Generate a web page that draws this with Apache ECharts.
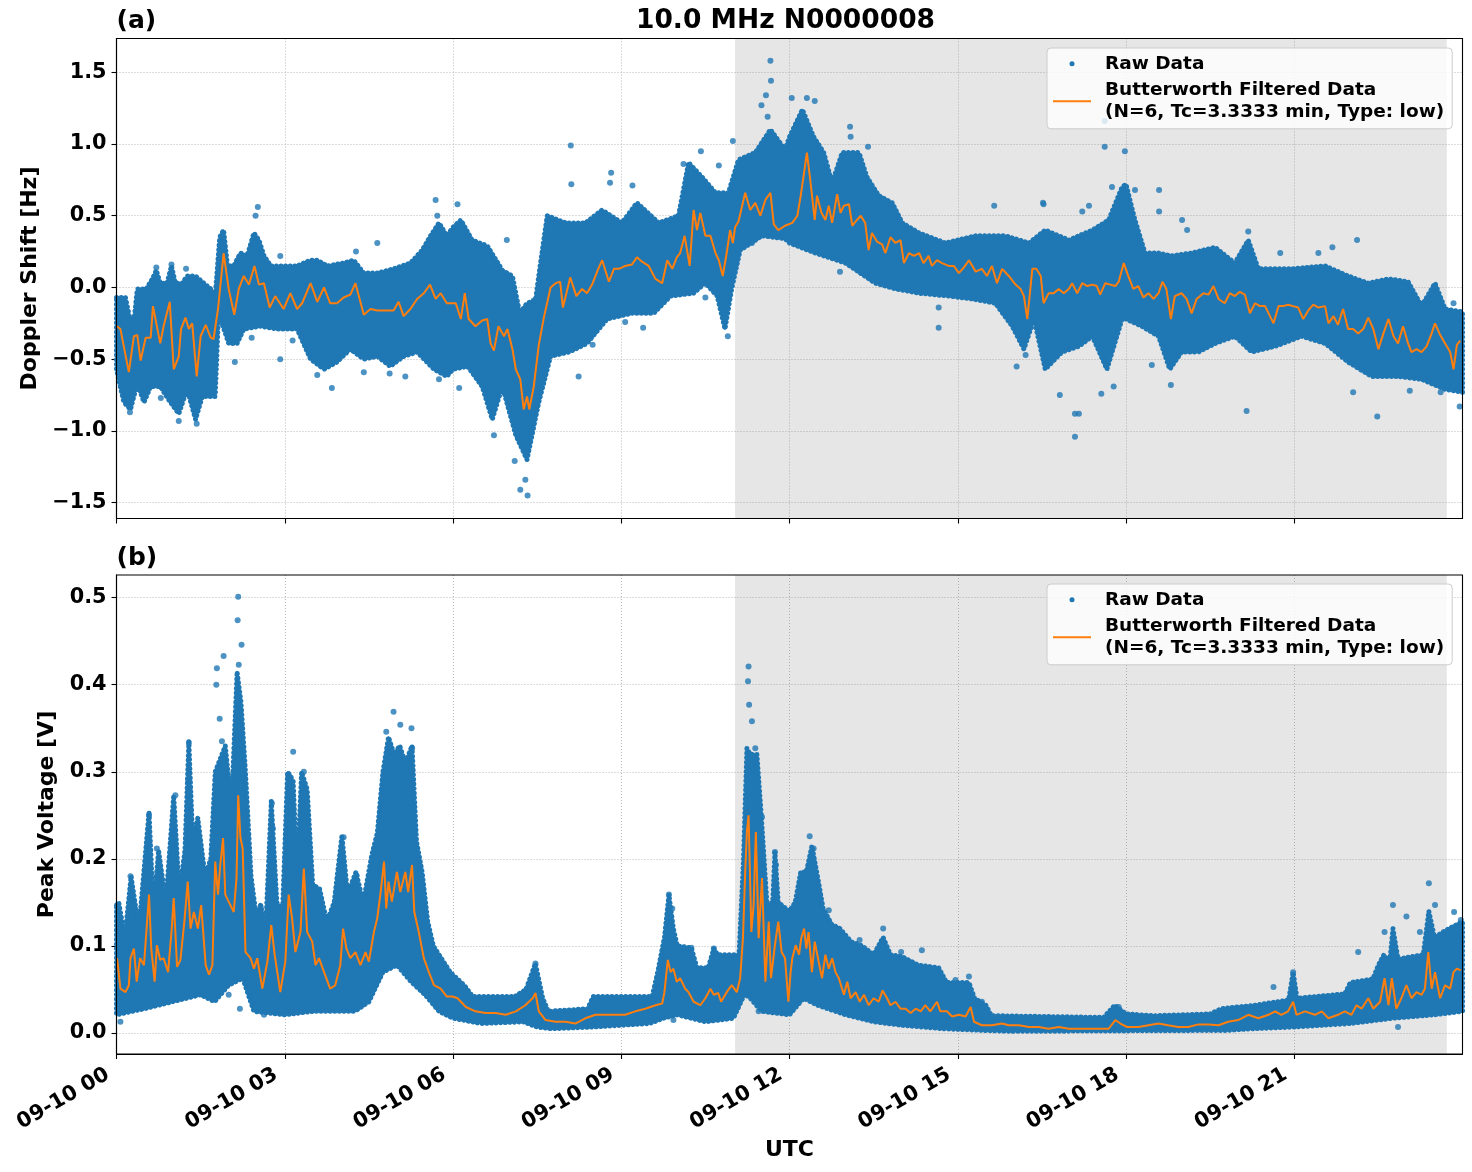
<!DOCTYPE html>
<html>
<head>
<meta charset="utf-8">
<title>10.0 MHz N0000008</title>
<script src="https://cdn.jsdelivr.net/npm/echarts@6/dist/echarts.min.js"></script>
<style>
  html, body { margin: 0; padding: 0; background: #fff; }
  #chart { width: 1472px; height: 1172px; }
</style>
</head>
<body>
<div id="chart"></div>
<script>
// ---- data (hours UTC since 09-10 00:00) ----
var xTickHours = [0, 3, 6, 9, 12, 15, 18, 21];
var dopplerTicks = [-1.5, -1, -0.5, 0, 0.5, 1, 1.5];
var voltageTicks = [0, 0.1, 0.2, 0.3, 0.4, 0.5];
var shadeHours = [11.03, 23.72];

// edges of the dense cloud of raw samples [hour, value]
var dopplerUpper = [
  [0.00, -0.07], [0.16, -0.07], [0.24, -0.22], [0.32, -0.20], [0.37, -0.01], [0.53, -0.01], [0.64, 0.06], [0.71, 0.12], [0.78, 0.03],
  [0.90, 0.03], [0.98, 0.15], [1.05, 0.03], [1.17, 0.03], [1.26, 0.08], [1.41, 0.08], [1.56, 0.03], [1.68, -0.01], [1.76, -0.06],
  [1.84, 0.35], [1.91, 0.40], [1.98, 0.15], [2.09, 0.15], [2.21, 0.24], [2.33, 0.22], [2.45, 0.38], [2.54, 0.33], [2.63, 0.22],
  [2.75, 0.15], [2.98, 0.15], [3.22, 0.15], [3.46, 0.19], [3.58, 0.19], [3.76, 0.15], [4.05, 0.17], [4.23, 0.19], [4.41, 0.10],
  [4.65, 0.10], [4.94, 0.13], [5.24, 0.17], [5.45, 0.26], [5.60, 0.36], [5.75, 0.45], [5.89, 0.36], [6.00, 0.42], [6.14, 0.47],
  [6.34, 0.33], [6.61, 0.29], [6.88, 0.12], [7.06, 0.08], [7.19, -0.18], [7.32, -0.11], [7.47, -0.09], [7.56, 0.17], [7.68, 0.50],
  [8.01, 0.45], [8.36, 0.45], [8.66, 0.54], [9.01, 0.45], [9.28, 0.59], [9.67, 0.45], [10.02, 0.50], [10.20, 0.87], [10.44, 0.77],
  [10.68, 0.66], [10.91, 0.66], [11.09, 0.89], [11.39, 0.94], [11.66, 1.10], [11.92, 0.96], [12.00, 1.05], [12.23, 1.24], [12.43, 1.05],
  [12.61, 0.94], [12.76, 0.73], [12.94, 0.94], [13.24, 0.94], [13.38, 0.77], [13.59, 0.64], [13.83, 0.59], [14.01, 0.45], [14.31, 0.38],
  [14.78, 0.31], [15.32, 0.36], [15.85, 0.36], [16.27, 0.31], [16.56, 0.40], [16.98, 0.33], [17.40, 0.40], [17.69, 0.47], [17.93, 0.70],
  [18.00, 0.72], [18.16, 0.47], [18.34, 0.24], [18.58, 0.24], [18.81, 0.22], [19.17, 0.24], [19.59, 0.28], [19.94, 0.17], [20.18, 0.33],
  [20.36, 0.13], [20.95, 0.13], [21.55, 0.15], [21.96, 0.08], [22.32, 0.03], [22.68, 0.06], [23.03, 0.04], [23.27, -0.13], [23.51, 0.03],
  [23.69, -0.15], [24.00, -0.17]
];
var dopplerLower = [
  [0.00, -0.57], [0.13, -0.80], [0.25, -0.85], [0.37, -0.67], [0.49, -0.80], [0.61, -0.69], [0.78, -0.69], [0.96, -0.80], [1.11, -0.88],
  [1.26, -0.71], [1.41, -0.92], [1.53, -0.76], [1.76, -0.76], [1.82, -0.18], [2.00, -0.39], [2.15, -0.39], [2.27, -0.29], [2.57, -0.27],
  [2.86, -0.29], [3.22, -0.29], [3.46, -0.50], [3.70, -0.57], [3.93, -0.52], [4.17, -0.43], [4.41, -0.50], [4.65, -0.48], [4.88, -0.55],
  [5.12, -0.48], [5.36, -0.45], [5.66, -0.57], [5.89, -0.62], [6.00, -0.57], [6.26, -0.55], [6.52, -0.69], [6.70, -0.92], [6.88, -0.69],
  [7.12, -1.03], [7.32, -1.20], [7.53, -0.80], [7.74, -0.48], [8.07, -0.45], [8.39, -0.39], [8.75, -0.22], [9.19, -0.18], [9.58, -0.18],
  [9.88, -0.06], [10.29, -0.04], [10.50, 0.03], [10.71, -0.06], [10.85, -0.29], [10.97, -0.01], [11.12, 0.26], [11.51, 0.36], [11.92, 0.34],
  [12.00, 0.31], [12.46, 0.24], [13.00, 0.17], [13.53, 0.03], [13.89, -0.01], [14.31, -0.04], [14.84, -0.06], [15.26, -0.08], [15.67, -0.11],
  [15.97, -0.27], [16.18, -0.43], [16.36, -0.22], [16.56, -0.57], [16.86, -0.45], [17.16, -0.41], [17.40, -0.34], [17.66, -0.57], [17.93, -0.22],
  [18.00, -0.22], [18.28, -0.27], [18.58, -0.34], [18.78, -0.57], [18.99, -0.45], [19.29, -0.45], [19.59, -0.39], [19.94, -0.34], [20.24, -0.45],
  [20.66, -0.41], [21.13, -0.34], [21.55, -0.39], [21.96, -0.52], [22.38, -0.62], [22.85, -0.62], [23.27, -0.64], [23.69, -0.71], [24.00, -0.73]
];
var voltageUpper = [
  [0.00, 0.147], [0.04, 0.150], [0.15, 0.110], [0.26, 0.180], [0.40, 0.120], [0.58, 0.254], [0.66, 0.140], [0.75, 0.210], [0.88, 0.150],
  [1.02, 0.273], [1.12, 0.160], [1.22, 0.210], [1.29, 0.335], [1.36, 0.220], [1.45, 0.247], [1.58, 0.180], [1.68, 0.200], [1.76, 0.300],
  [1.85, 0.315], [1.94, 0.330], [2.05, 0.260], [2.15, 0.415], [2.22, 0.380], [2.30, 0.300], [2.40, 0.180], [2.50, 0.130], [2.57, 0.147],
  [2.66, 0.120], [2.76, 0.266], [2.86, 0.150], [2.96, 0.140], [3.05, 0.300], [3.15, 0.290], [3.22, 0.180], [3.30, 0.300], [3.40, 0.280],
  [3.50, 0.170], [3.62, 0.166], [3.75, 0.128], [3.88, 0.150], [4.02, 0.227], [4.12, 0.160], [4.27, 0.185], [4.40, 0.150], [4.55, 0.204],
  [4.65, 0.230], [4.75, 0.300], [4.85, 0.340], [4.95, 0.320], [5.05, 0.330], [5.15, 0.310], [5.27, 0.330], [5.35, 0.220], [5.45, 0.185],
  [5.55, 0.128], [5.65, 0.100], [5.80, 0.085], [5.95, 0.070], [6.20, 0.055], [6.35, 0.042], [7.10, 0.042], [7.30, 0.050], [7.47, 0.080],
  [7.60, 0.040], [7.70, 0.025], [8.40, 0.028], [8.50, 0.042], [9.55, 0.042], [9.65, 0.070], [9.77, 0.110], [9.85, 0.159], [9.93, 0.120],
  [10.00, 0.100], [10.25, 0.098], [10.35, 0.075], [10.55, 0.075], [10.65, 0.097], [10.72, 0.090], [11.10, 0.090], [11.18, 0.200], [11.24, 0.327],
  [11.30, 0.320], [11.42, 0.320], [11.50, 0.247], [11.60, 0.147], [11.70, 0.150], [11.74, 0.208], [11.80, 0.150], [12.00, 0.140], [12.10, 0.150],
  [12.20, 0.185], [12.30, 0.185], [12.40, 0.215], [12.50, 0.180], [12.60, 0.143], [12.75, 0.125], [12.90, 0.120], [13.10, 0.105], [13.30, 0.100],
  [13.50, 0.090], [13.67, 0.110], [13.80, 0.090], [14.00, 0.088], [14.30, 0.078], [14.66, 0.075], [14.80, 0.058], [15.20, 0.058], [15.30, 0.040],
  [15.50, 0.032], [15.60, 0.020], [17.60, 0.018], [17.80, 0.032], [18.00, 0.022], [18.50, 0.020], [19.50, 0.022], [19.70, 0.028], [20.30, 0.032],
  [20.90, 0.038], [20.98, 0.070], [21.05, 0.040], [21.90, 0.045], [22.00, 0.058], [22.40, 0.062], [22.50, 0.078], [22.60, 0.090], [22.70, 0.080],
  [22.76, 0.120], [22.85, 0.085], [23.30, 0.090], [23.40, 0.140], [23.50, 0.110], [23.70, 0.118], [24.00, 0.128]
];
var voltageLower = [
  [0.00, 0.021], [0.50, 0.028], [1.00, 0.036], [1.50, 0.044], [1.75, 0.036], [2.00, 0.055], [2.25, 0.063], [2.45, 0.025], [3.00, 0.021],
  [3.50, 0.025], [4.25, 0.025], [4.50, 0.036], [4.75, 0.070], [5.00, 0.078], [5.25, 0.059], [5.50, 0.044], [5.75, 0.025], [6.00, 0.017],
  [6.50, 0.011], [7.25, 0.013], [7.50, 0.007], [7.75, 0.005], [8.50, 0.007], [9.50, 0.011], [9.75, 0.017], [10.00, 0.021], [10.50, 0.013],
  [11.00, 0.017], [11.20, 0.045], [11.30, 0.040], [11.50, 0.025], [12.00, 0.021], [12.25, 0.040], [12.50, 0.032], [13.00, 0.021], [13.50, 0.013],
  [14.00, 0.009], [14.75, 0.005], [15.50, 0.003], [16.00, 0.002], [19.75, 0.003], [20.25, 0.005], [21.00, 0.007], [22.00, 0.011], [22.75, 0.017],
  [23.50, 0.021], [24.00, 0.025]
];

// sparse raw points standing out of the dense cloud [hour, value]
var dopplerOutliers = [
  [0.71, 0.14], [0.98, 0.16], [1.24, 0.13], [0.79, -0.77], [1.11, -0.93], [0.24, -0.87], [1.43, -0.95], [2.52, 0.56], [2.48, 0.50],
  [2.11, -0.52], [2.41, -0.35], [2.92, 0.22], [2.92, -0.50], [3.14, -0.37], [3.58, -0.61], [3.84, -0.70], [4.27, 0.25], [4.65, 0.31],
  [4.41, -0.59], [4.87, -0.60], [5.15, -0.62], [5.69, 0.61], [5.75, -0.64], [5.72, 0.50], [6.08, 0.58], [6.11, -0.70], [6.73, -1.03],
  [6.96, 0.33], [7.20, -1.41], [7.33, -1.45], [7.29, -1.34], [7.10, -1.21], [7.44, -0.09], [8.10, 0.99], [8.11, 0.72], [8.24, -0.62],
  [8.82, 0.80], [8.80, 0.73], [9.20, 0.71], [8.49, -0.40], [9.07, -0.24], [9.39, -0.28], [10.11, 0.86], [10.42, 0.95], [10.74, 0.85],
  [10.99, 1.02], [10.90, -0.34], [10.50, -0.07], [11.66, 1.58], [11.67, 1.44], [11.58, 1.34], [11.61, 1.19], [11.50, 1.27], [11.33, 0.31],
  [12.04, 1.32], [12.31, 1.32], [12.45, 1.30], [13.08, 1.12], [13.09, 1.05], [13.40, 0.98], [12.90, 0.11], [14.66, -0.14], [14.66, -0.28],
  [15.65, 0.57], [16.53, 0.58], [16.05, -0.55], [16.21, -0.47], [16.82, -0.75], [17.09, -0.88], [17.16, -0.88], [17.09, -1.04], [17.56, -0.74],
  [17.62, 0.98], [17.62, 1.16], [17.75, 0.70], [17.98, 0.95], [17.78, -0.69], [17.22, 0.53], [17.34, 0.57], [16.52, 0.59], [18.16, 0.68],
  [18.59, 0.68], [18.59, 0.53], [19.00, 0.47], [19.09, 0.40], [20.18, 0.39], [20.15, -0.86], [20.75, 0.24], [21.43, 0.24], [21.68, 0.28],
  [22.12, 0.33], [18.80, -0.68], [18.46, -0.54], [22.48, -0.90], [22.05, -0.73], [23.51, 0.01], [23.84, -0.11], [23.95, -0.83], [23.61, -0.73],
  [23.06, -0.72]
];
var voltageOutliers = [
  [2.17, 0.501], [2.16, 0.474], [2.23, 0.446], [2.18, 0.423], [1.91, 0.433], [1.79, 0.419], [1.78, 0.400], [1.84, 0.361], [1.88, 0.335],
  [1.29, 0.333], [1.28, 0.291], [1.05, 0.273], [0.58, 0.250], [0.72, 0.212], [0.25, 0.180], [3.15, 0.323], [3.07, 0.296], [3.34, 0.300],
  [2.77, 0.264], [2.79, 0.235], [4.05, 0.225], [4.28, 0.181], [4.94, 0.369], [4.81, 0.346], [5.06, 0.354], [5.26, 0.350], [5.27, 0.327],
  [2.57, 0.145], [2.00, 0.044], [2.20, 0.028], [0.07, 0.013], [2.63, 0.021], [9.85, 0.159], [9.91, 0.143], [10.25, 0.098], [10.65, 0.097],
  [11.27, 0.421], [11.26, 0.404], [11.28, 0.377], [11.33, 0.358], [11.39, 0.327], [11.51, 0.248], [11.74, 0.208], [11.76, 0.193],
  [7.47, 0.080], [9.93, 0.015], [11.45, 0.025], [12.36, 0.226], [12.43, 0.212], [12.05, 0.143], [12.70, 0.141], [13.25, 0.107],
  [13.67, 0.120], [13.67, 0.105], [13.99, 0.093], [14.36, 0.095], [15.20, 0.065], [14.96, 0.061], [15.43, 0.036], [17.87, 0.030],
  [20.98, 0.070], [20.63, 0.053], [22.14, 0.093], [22.61, 0.116], [22.76, 0.147], [23.00, 0.134], [23.24, 0.116], [23.40, 0.172],
  [23.51, 0.147], [23.85, 0.139], [23.97, 0.130], [22.85, 0.007]
];

// Butterworth low-pass curves [hour, value]
var dopplerFiltered = [
  [0.01, -0.27], [0.07, -0.29], [0.22, -0.59], [0.31, -0.34], [0.37, -0.33], [0.43, -0.51], [0.52, -0.35], [0.61, -0.35], [0.65, -0.13],
  [0.78, -0.39], [0.84, -0.27], [0.95, -0.10], [1.02, -0.57], [1.11, -0.48], [1.15, -0.29], [1.23, -0.21], [1.29, -0.29], [1.35, -0.25],
  [1.43, -0.62], [1.50, -0.34], [1.59, -0.26], [1.68, -0.35], [1.73, -0.36], [1.81, -0.15], [1.91, 0.24], [2.00, -0.01], [2.10, -0.19],
  [2.18, -0.01], [2.27, 0.08], [2.36, 0.02], [2.46, 0.15], [2.54, 0.02], [2.63, 0.03], [2.73, -0.14], [2.83, -0.06], [2.98, -0.15],
  [3.10, -0.04], [3.22, -0.15], [3.31, -0.11], [3.46, 0.03], [3.58, -0.10], [3.70, 0.00], [3.81, -0.11], [3.93, -0.11], [4.05, -0.07],
  [4.17, -0.05], [4.26, 0.03], [4.41, -0.19], [4.53, -0.15], [4.65, -0.16], [4.77, -0.16], [4.94, -0.16], [5.03, -0.10], [5.12, -0.20],
  [5.24, -0.15], [5.36, -0.08], [5.48, -0.04], [5.59, 0.02], [5.69, -0.08], [5.78, -0.04], [5.89, -0.11], [6.05, -0.11], [6.14, -0.22],
  [6.21, -0.04], [6.28, -0.22], [6.40, -0.27], [6.52, -0.23], [6.61, -0.22], [6.67, -0.39], [6.73, -0.44], [6.81, -0.27], [6.91, -0.34],
  [6.97, -0.29], [7.06, -0.43], [7.12, -0.57], [7.20, -0.64], [7.26, -0.85], [7.32, -0.76], [7.36, -0.85], [7.44, -0.69], [7.53, -0.40],
  [7.62, -0.21], [7.74, 0.00], [7.83, 0.03], [7.91, 0.04], [7.96, -0.14], [8.09, 0.07], [8.20, -0.06], [8.30, -0.01], [8.39, -0.04],
  [8.48, 0.02], [8.59, 0.13], [8.66, 0.19], [8.78, 0.04], [8.87, 0.13], [8.96, 0.13], [9.07, 0.15], [9.19, 0.16], [9.28, 0.21],
  [9.37, 0.18], [9.49, 0.15], [9.61, 0.06], [9.73, 0.03], [9.82, 0.19], [9.91, 0.13], [9.99, 0.21], [10.05, 0.24], [10.13, 0.36],
  [10.22, 0.15], [10.29, 0.54], [10.35, 0.40], [10.41, 0.52], [10.50, 0.36], [10.59, 0.36], [10.68, 0.24], [10.74, 0.19], [10.81, 0.08],
  [10.88, 0.24], [10.94, 0.40], [10.99, 0.31], [11.03, 0.42], [11.09, 0.46], [11.21, 0.66], [11.30, 0.54], [11.39, 0.59], [11.48, 0.50],
  [11.57, 0.61], [11.66, 0.66], [11.72, 0.44], [11.80, 0.40], [11.92, 0.43], [12.05, 0.45], [12.14, 0.50], [12.20, 0.64], [12.26, 0.80],
  [12.31, 0.94], [12.37, 0.75], [12.45, 0.47], [12.49, 0.64], [12.57, 0.52], [12.64, 0.47], [12.70, 0.57], [12.76, 0.45], [12.85, 0.65],
  [12.91, 0.52], [12.97, 0.57], [13.06, 0.58], [13.12, 0.43], [13.18, 0.46], [13.27, 0.50], [13.35, 0.45], [13.41, 0.26], [13.47, 0.38],
  [13.56, 0.32], [13.65, 0.30], [13.71, 0.24], [13.80, 0.35], [13.89, 0.31], [13.98, 0.33], [14.04, 0.17], [14.13, 0.24], [14.22, 0.22],
  [14.31, 0.24], [14.39, 0.17], [14.48, 0.22], [14.54, 0.15], [14.63, 0.19], [14.72, 0.17], [14.84, 0.15], [14.93, 0.15], [15.02, 0.10],
  [15.11, 0.14], [15.20, 0.19], [15.32, 0.11], [15.43, 0.13], [15.52, 0.08], [15.61, 0.15], [15.70, 0.03], [15.79, 0.13], [15.91, 0.08],
  [16.03, 0.02], [16.12, -0.01], [16.18, -0.06], [16.24, -0.22], [16.33, 0.13], [16.40, 0.13], [16.48, 0.08], [16.53, -0.11], [16.62, -0.04],
  [16.71, -0.04], [16.80, -0.01], [16.89, -0.04], [16.98, -0.01], [17.04, 0.03], [17.13, -0.04], [17.22, 0.03], [17.31, 0.01], [17.40, 0.02],
  [17.48, 0.01], [17.54, -0.05], [17.63, 0.03], [17.72, 0.02], [17.81, 0.01], [17.87, 0.04], [17.96, 0.17], [18.04, 0.08], [18.13, -0.01],
  [18.22, 0.01], [18.31, -0.07], [18.40, -0.04], [18.49, -0.08], [18.58, -0.04], [18.65, 0.04], [18.72, -0.01], [18.80, -0.22], [18.87, -0.06],
  [18.99, -0.04], [19.08, -0.08], [19.17, -0.18], [19.26, -0.08], [19.38, -0.04], [19.47, -0.05], [19.56, 0.01], [19.65, -0.08], [19.76, -0.11],
  [19.85, -0.04], [19.94, -0.06], [20.03, -0.03], [20.12, -0.05], [20.21, -0.18], [20.30, -0.11], [20.39, -0.13], [20.48, -0.13], [20.63, -0.25],
  [20.72, -0.13], [20.80, -0.13], [20.89, -0.12], [20.98, -0.13], [21.07, -0.14], [21.16, -0.22], [21.25, -0.16], [21.34, -0.12], [21.43, -0.14],
  [21.55, -0.13], [21.61, -0.25], [21.70, -0.20], [21.78, -0.26], [21.87, -0.15], [21.96, -0.29], [22.05, -0.29], [22.14, -0.32], [22.23, -0.29],
  [22.32, -0.21], [22.41, -0.29], [22.50, -0.43], [22.59, -0.32], [22.68, -0.22], [22.77, -0.34], [22.85, -0.39], [22.94, -0.27], [23.03, -0.39],
  [23.09, -0.45], [23.18, -0.43], [23.27, -0.45], [23.36, -0.41], [23.45, -0.32], [23.51, -0.25], [23.60, -0.33], [23.69, -0.39], [23.78, -0.45],
  [23.84, -0.57], [23.90, -0.40], [23.96, -0.37]
];
var voltageFiltered = [
  [0.01, 0.086], [0.07, 0.051], [0.16, 0.047], [0.22, 0.055], [0.25, 0.086], [0.31, 0.097], [0.36, 0.059], [0.42, 0.086], [0.49, 0.078],
  [0.58, 0.159], [0.62, 0.097], [0.68, 0.059], [0.72, 0.101], [0.78, 0.084], [0.84, 0.086], [0.92, 0.070], [0.99, 0.124], [1.02, 0.155],
  [1.08, 0.076], [1.14, 0.084], [1.21, 0.128], [1.27, 0.174], [1.32, 0.120], [1.38, 0.139], [1.45, 0.120], [1.51, 0.147], [1.59, 0.078],
  [1.65, 0.067], [1.71, 0.078], [1.76, 0.197], [1.81, 0.159], [1.85, 0.193], [1.90, 0.224], [1.94, 0.159], [2.03, 0.147], [2.09, 0.139],
  [2.14, 0.178], [2.17, 0.273], [2.21, 0.224], [2.25, 0.212], [2.30, 0.093], [2.39, 0.086], [2.45, 0.074], [2.51, 0.086], [2.60, 0.051],
  [2.69, 0.082], [2.76, 0.124], [2.82, 0.090], [2.92, 0.047], [3.01, 0.082], [3.07, 0.159], [3.13, 0.132], [3.19, 0.093], [3.28, 0.116],
  [3.34, 0.189], [3.40, 0.116], [3.49, 0.105], [3.55, 0.078], [3.61, 0.086], [3.70, 0.070], [3.81, 0.051], [3.90, 0.055], [3.99, 0.078],
  [4.04, 0.120], [4.10, 0.097], [4.17, 0.086], [4.26, 0.093], [4.35, 0.078], [4.44, 0.093], [4.50, 0.082], [4.59, 0.116], [4.65, 0.132],
  [4.71, 0.162], [4.77, 0.197], [4.81, 0.143], [4.85, 0.174], [4.91, 0.151], [5.00, 0.185], [5.06, 0.162], [5.15, 0.185], [5.20, 0.162],
  [5.27, 0.193], [5.31, 0.139], [5.39, 0.116], [5.48, 0.086], [5.57, 0.070], [5.66, 0.055], [5.78, 0.051], [5.89, 0.042], [5.99, 0.042],
  [6.08, 0.040], [6.23, 0.030], [6.40, 0.025], [6.58, 0.023], [6.76, 0.023], [6.94, 0.021], [7.12, 0.025], [7.29, 0.032], [7.42, 0.040],
  [7.47, 0.046], [7.53, 0.025], [7.65, 0.015], [7.83, 0.013], [8.01, 0.013], [8.18, 0.011], [8.36, 0.017], [8.54, 0.021], [8.72, 0.021],
  [8.90, 0.021], [9.07, 0.021], [9.25, 0.025], [9.43, 0.028], [9.61, 0.032], [9.73, 0.034], [9.77, 0.047], [9.83, 0.084], [9.88, 0.070],
  [9.93, 0.074], [9.99, 0.059], [10.05, 0.063], [10.14, 0.051], [10.20, 0.047], [10.29, 0.036], [10.41, 0.032], [10.50, 0.040], [10.59, 0.051],
  [10.65, 0.044], [10.73, 0.046], [10.78, 0.036], [10.88, 0.047], [10.97, 0.055], [11.06, 0.047], [11.12, 0.063], [11.17, 0.109], [11.21, 0.185],
  [11.24, 0.231], [11.27, 0.250], [11.32, 0.116], [11.36, 0.147], [11.40, 0.231], [11.45, 0.109], [11.51, 0.178], [11.57, 0.059], [11.63, 0.128],
  [11.67, 0.063], [11.74, 0.101], [11.80, 0.128], [11.86, 0.093], [11.92, 0.086], [11.98, 0.036], [12.02, 0.070], [12.05, 0.086], [12.11, 0.101],
  [12.17, 0.090], [12.21, 0.109], [12.26, 0.120], [12.30, 0.097], [12.34, 0.116], [12.40, 0.070], [12.45, 0.105], [12.52, 0.082], [12.58, 0.063],
  [12.64, 0.090], [12.70, 0.074], [12.76, 0.086], [12.82, 0.070], [12.88, 0.063], [12.97, 0.044], [13.03, 0.059], [13.09, 0.040], [13.18, 0.047],
  [13.25, 0.036], [13.33, 0.044], [13.41, 0.032], [13.50, 0.040], [13.59, 0.036], [13.66, 0.049], [13.74, 0.040], [13.80, 0.032], [13.89, 0.036],
  [13.98, 0.028], [14.07, 0.028], [14.16, 0.023], [14.25, 0.028], [14.34, 0.025], [14.42, 0.032], [14.51, 0.025], [14.63, 0.036], [14.69, 0.025],
  [14.81, 0.025], [14.90, 0.019], [15.02, 0.021], [15.14, 0.019], [15.23, 0.030], [15.29, 0.013], [15.43, 0.009], [15.61, 0.009], [15.79, 0.011],
  [15.91, 0.009], [16.09, 0.009], [16.27, 0.007], [16.44, 0.007], [16.62, 0.005], [16.80, 0.007], [16.98, 0.005], [17.16, 0.005], [17.34, 0.005],
  [17.51, 0.005], [17.69, 0.005], [17.81, 0.015], [17.90, 0.011], [18.02, 0.007], [18.22, 0.007], [18.40, 0.009], [18.58, 0.011], [18.75, 0.009],
  [18.93, 0.007], [19.11, 0.007], [19.29, 0.010], [19.47, 0.010], [19.65, 0.009], [19.82, 0.013], [20.00, 0.015], [20.18, 0.021], [20.36, 0.017],
  [20.54, 0.021], [20.66, 0.025], [20.77, 0.021], [20.89, 0.025], [20.98, 0.036], [21.04, 0.021], [21.19, 0.025], [21.37, 0.021], [21.49, 0.025],
  [21.61, 0.017], [21.78, 0.021], [21.90, 0.025], [22.02, 0.021], [22.11, 0.032], [22.20, 0.028], [22.32, 0.040], [22.41, 0.028], [22.53, 0.036],
  [22.61, 0.063], [22.68, 0.032], [22.74, 0.063], [22.82, 0.028], [22.91, 0.040], [23.00, 0.055], [23.09, 0.040], [23.18, 0.047], [23.27, 0.044],
  [23.33, 0.051], [23.39, 0.093], [23.45, 0.051], [23.51, 0.070], [23.60, 0.040], [23.69, 0.055], [23.78, 0.051], [23.84, 0.070], [23.90, 0.074],
  [23.97, 0.072]
];

// ---- styling ----
var BLUE = '#1f77b4';
var ORANGE = '#ff7f0e';
var FONT = 'DejaVu Sans';
var RAW_NAME = 'Raw Data';
var FILT_NAME = 'Butterworth Filtered Data\n(N=6, Tc=3.3333 min, Type: low)';
var panels = [
  { left: 116.5, top: 38.5, width: 1346, height: 480 },
  { left: 116.5, top: 575, width: 1346, height: 479 }
];

function hourLabel(h) {
  return '09-10 ' + (h < 10 ? '0' : '') + h;
}

function tickLabel(step) {
  return function (v) {
    var k = v / step;
    if (Math.abs(k - Math.round(k)) > 1e-6) return '';
    return v.toFixed(1).replace('-', '\u2212');
  };
}

// dense cloud of raw samples: one polygon between its upper and lower edges,
// outlined with round beads so the edge reads like overlapping markers
function bandSeries(idx, upper, lower) {
  return {
    type: 'custom',
    name: RAW_NAME,
    xAxisIndex: idx,
    yAxisIndex: idx,
    data: upper,
    encode: { x: 0, y: 1 },
    silent: true,
    z: 2,
    renderItem: function (params, api) {
      if (params.dataIndex !== 0) return null;
      var pts = [];
      for (var i = 0; i < upper.length; i++) pts.push(api.coord(upper[i]));
      for (var j = lower.length - 1; j >= 0; j--) pts.push(api.coord(lower[j]));
      return {
        type: 'group',
        children: [
          {
            type: 'polygon',
            shape: { points: pts },
            style: { fill: BLUE, stroke: BLUE, lineWidth: 1.5, lineJoin: 'round' }
          },
          {
            type: 'polygon',
            shape: { points: pts },
            style: { fill: null, stroke: BLUE, lineWidth: 5, lineCap: 'round', lineJoin: 'round', lineDash: [0.1, 4.5] }
          }
        ]
      };
    }
  };
}

function panelSeries(idx, upper, lower, outliers, filtered) {
  return [
    {
      type: 'line',
      xAxisIndex: idx,
      yAxisIndex: idx,
      data: [],
      silent: true,
      z: 1,
      markArea: {
        silent: true,
        itemStyle: { color: 'rgba(128,128,128,0.2)' },
        data: [[{ xAxis: shadeHours[0] }, { xAxis: shadeHours[1] }]]
      }
    },
    bandSeries(idx, upper, lower),
    {
      type: 'scatter',
      name: RAW_NAME,
      xAxisIndex: idx,
      yAxisIndex: idx,
      data: outliers,
      symbolSize: 6,
      itemStyle: { color: BLUE },
      silent: true,
      z: 3
    },
    {
      type: 'line',
      name: FILT_NAME,
      xAxisIndex: idx,
      yAxisIndex: idx,
      data: filtered,
      showSymbol: false,
      lineStyle: { color: ORANGE, width: 2 },
      itemStyle: { color: ORANGE },
      silent: true,
      z: 4
    }
  ];
}

function legendFor(top) {
  return {
    orient: 'vertical',
    left: 1047,
    top: top,
    padding: [5, 8, 6, 6],
    itemGap: 5,
    itemWidth: 38,
    itemHeight: 5,
    backgroundColor: 'rgba(255,255,255,0.8)',
    borderColor: '#cccccc',
    borderWidth: 1,
    borderRadius: 4,
    selectedMode: false,
    textStyle: { fontFamily: FONT, fontSize: 18.5, fontWeight: 'bold', color: '#000', lineHeight: 21.6, padding: [0, 0, 0, 9] },
    data: [
      { name: RAW_NAME, icon: 'circle', itemStyle: { color: BLUE, borderWidth: 0 } },
      { name: FILT_NAME, icon: 'path://M0,0L38,0L38,2L0,2Z', itemStyle: { color: ORANGE, borderWidth: 0 }, lineStyle: { width: 0 } }
    ]
  };
}

function xAxisFor(idx, showLabels) {
  return {
    type: 'value',
    gridIndex: idx,
    min: 0,
    max: 24,
    interval: 3,
    axisLine: { show: true, onZero: false, lineStyle: { color: '#000', width: 1.1 } },
    axisTick: { show: true, customValues: xTickHours, length: 5, lineStyle: { color: '#000', width: 1.1 } },
    axisLabel: {
      show: showLabels,
      customValues: xTickHours,
      rotate: 30,
      margin: 14,
      padding: [0, 10, 0, 0],
      fontFamily: FONT,
      fontSize: 20.8,
      fontWeight: 'bold',
      color: '#000',
      formatter: function (v) { return v >= 24 ? '' : hourLabel(v); }
    },
    splitLine: { show: true, lineStyle: { color: '#b8b8b8', width: 1, type: [1, 2] } }
  };
}

function yAxisFor(idx, min, max, ticks, step, name, gap) {
  return {
    type: 'value',
    gridIndex: idx,
    min: min,
    max: max,
    splitNumber: 6,
    name: name,
    nameLocation: 'middle',
    nameGap: gap,
    nameTextStyle: { fontFamily: FONT, fontSize: 22, fontWeight: 'bold', color: '#000' },
    axisLine: { show: true, onZero: false, lineStyle: { color: '#000', width: 1.1 } },
    axisTick: { show: true, customValues: ticks, length: 5, lineStyle: { color: '#000', width: 1.1 } },
    axisLabel: {
      customValues: ticks,
      margin: 10,
      fontFamily: FONT,
      fontSize: 20.8,
      fontWeight: 'bold',
      color: '#000',
      formatter: tickLabel(step)
    },
    splitLine: { show: true, lineStyle: { color: '#b8b8b8', width: 1, type: [1, 2] } }
  };
}

function frame(p) {
  return {
    type: 'rect',
    silent: true,
    z: 100,
    shape: { x: p.left, y: p.top, width: p.width, height: p.height },
    style: { fill: null, stroke: '#000', lineWidth: 1.1 }
  };
}

function label(text, x, y, size, align) {
  return {
    type: 'text',
    silent: true,
    z: 100,
    x: x,
    y: y,
    style: {
      text: text,
      fill: '#000',
      font: 'bold ' + size + 'px "' + FONT + '"',
      align: align,
      verticalAlign: 'middle'
    }
  };
}

var chart = echarts.init(document.getElementById('chart'), null, { renderer: 'canvas' });
var midX = panels[0].left + panels[0].width / 2;

chart.setOption({
  animation: false,
  backgroundColor: '#fff',
  grid: panels.map(function (p) {
    return { left: p.left, top: p.top, width: p.width, height: p.height, containLabel: false };
  }),
  legend: [legendFor(48), legendFor(584)],
  xAxis: [xAxisFor(0, false), xAxisFor(1, true)],
  yAxis: [
    yAxisFor(0, -1.61, 1.735, dopplerTicks, 0.5, 'Doppler Shift [Hz]', 75),
    yAxisFor(1, -0.024, 0.526, voltageTicks, 0.1, 'Peak Voltage [V]', 57)
  ],
  series: panelSeries(0, dopplerUpper, dopplerLower, dopplerOutliers, dopplerFiltered)
    .concat(panelSeries(1, voltageUpper, voltageLower, voltageOutliers, voltageFiltered)),
  graphic: [
    frame(panels[0]),
    frame(panels[1]),
    label('(a)', 116.5, 21, 25, 'left'),
    label('10.0 MHz N0000008', midX - 4, 21, 26.5, 'center'),
    label('(b)', 116.5, 558, 25, 'left'),
    label('UTC', midX, 1150, 22, 'center')
  ]
});
</script>
</body>
</html>
